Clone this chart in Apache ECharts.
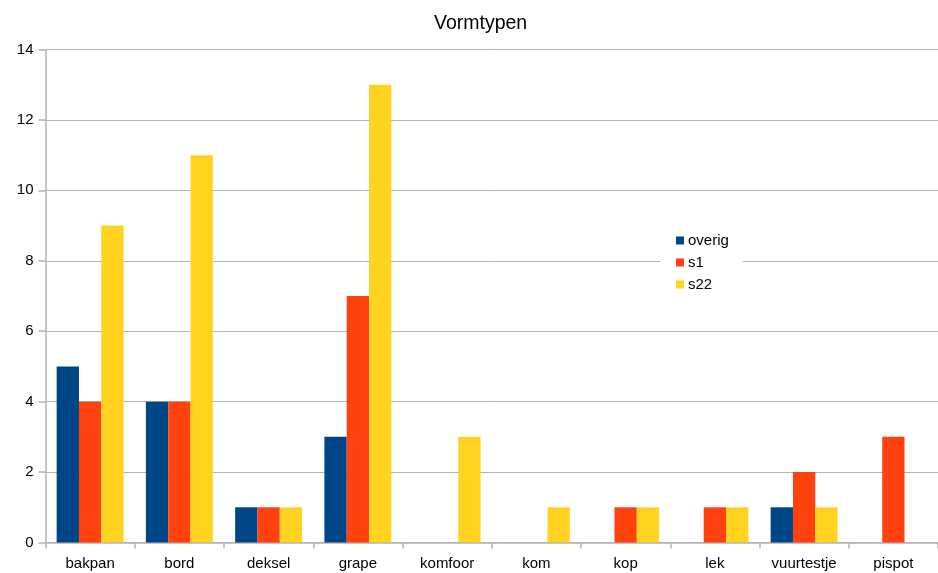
<!DOCTYPE html>
<html>
<head>
<meta charset="utf-8">
<script src="https://cdn.jsdelivr.net/npm/echarts@6/dist/echarts.min.js"></script>
<style>
  html, body { margin: 0; padding: 0; background: #fff; }
  #chart { width: 938px; height: 573px; }
</style>
</head>
<body>
<div id="chart"></div>
<script>
// Vormtypen: counts per shape type for each group
const categories = ['bakpan', 'bord', 'deksel', 'grape', 'komfoor', 'kom', 'kop', 'lek', 'vuurtestje', 'pispot'];
const overig = [5, 4, 1, 3, 0, 0, 0, 0, 1, 0];
const s1 = [4, 4, 1, 7, 0, 0, 1, 1, 2, 3];
const s22 = [9, 11, 1, 13, 3, 1, 1, 1, 1, 0];
const yTicks = { min: 0, max: 14, interval: 2 };

const font = 'Liberation Sans, Arial, sans-serif';
const chart = echarts.init(document.getElementById('chart'));

const bar = (name, data, color) => ({
  name, type: 'bar', data,
  itemStyle: { color },
  barGap: '0%',
  barCategoryGap: '25%'
});

chart.setOption({
  animation: false,
  backgroundColor: '#fff',
  title: {
    text: 'Vormtypen',
    left: 429, top: 9,
    textStyle: { fontFamily: font, fontSize: 19.5, fontWeight: 'normal', color: '#000' }
  },
  legend: {
    orient: 'vertical',
    left: 660, top: 229,
    padding: [4, 14, 4, 16],
    backgroundColor: '#fff',
    itemWidth: 8, itemHeight: 8, itemGap: 7,
    icon: 'rect',
    textStyle: { fontFamily: font, fontSize: 15, color: '#000', padding: [0, 0, 0, -1] },
    data: ['overig', 's1', 's22']
  },
  grid: { left: 45.5, right: -7.5, top: 49.5, bottom: 30.5, containLabel: false },
  xAxis: {
    type: 'category',
    data: categories,
    axisLine: { lineStyle: { color: '#b3b3b3', width: 1.5 } },
    axisTick: { show: true, length: 6, lineStyle: { color: '#b3b3b3', width: 1.5 } },
    axisLabel: { fontFamily: font, fontSize: 15, color: '#000', margin: 14 }
  },
  yAxis: {
    type: 'value',
    min: yTicks.min, max: yTicks.max, interval: yTicks.interval,
    axisLine: { show: true, lineStyle: { color: '#b3b3b3', width: 1.5 } },
    axisTick: { show: true, length: 7, lineStyle: { color: '#b3b3b3', width: 1.5 } },
    splitLine: { lineStyle: { color: '#b3b3b3', width: 1 } },
    axisLabel: { fontFamily: font, fontSize: 15, color: '#000', margin: 12 }
  },
  series: [
    bar('overig', overig, '#004586'),
    bar('s1', s1, '#ff420e'),
    bar('s22', s22, '#ffd320')
  ]
});
</script>
</body>
</html>
